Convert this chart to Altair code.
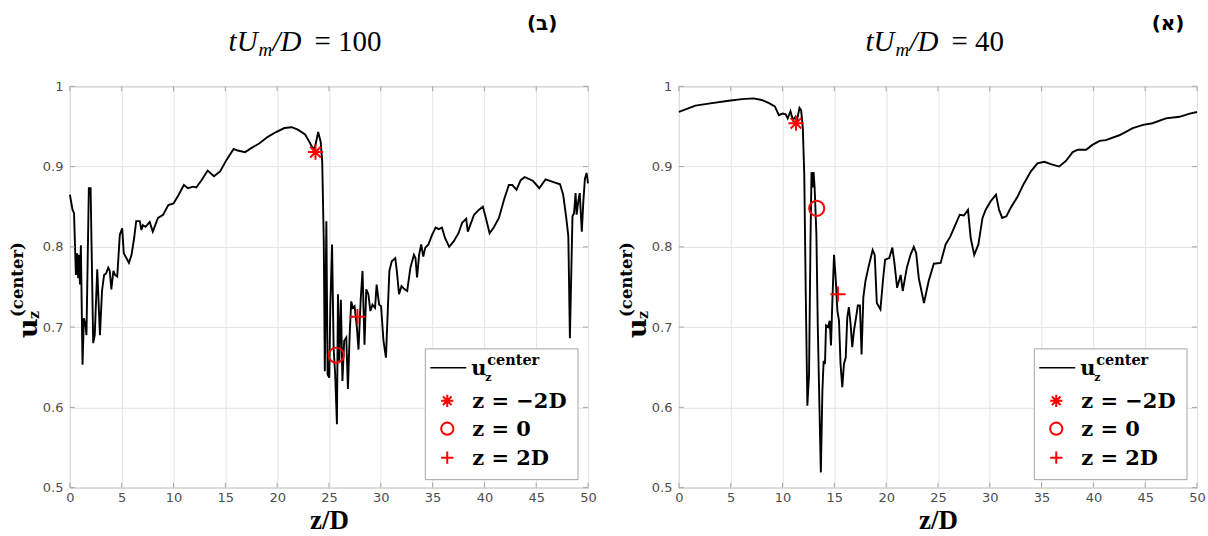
import altair as alt
import pandas as pd

# Centre-line axial velocity at tU_m/D = 100 (left panel)
left_z = [0, 0.26, 0.4, 0.58, 0.7, 0.8, 0.9, 0.97, 1.06, 1.22,
          1.35, 1.5, 1.6, 1.83, 2.0, 2.25, 2.4, 2.64, 2.9, 3.1,
          3.3, 3.5, 3.7, 3.85, 4.0, 4.2, 4.35, 4.57, 4.82, 5.05,
          5.2, 5.45, 5.7, 5.95, 6.2, 6.4, 6.75, 6.9, 7.05, 7.3,
          7.45, 7.7, 8.0, 8.5, 9.0, 9.5, 10.0, 10.5, 11.0, 11.4,
          11.9, 12.2, 12.7, 13.3, 13.9, 14.5, 15.1, 15.8, 16.2, 16.9,
          17.5, 18.3, 19.1, 19.9, 20.7, 21.4, 22.0, 22.7, 23.1, 23.5,
          23.7, 23.96, 24.2, 24.35, 24.5, 24.6, 24.75, 24.87, 25.03, 25.13,
          25.3, 25.45, 25.6, 25.77, 25.87, 26.0, 26.15, 26.3, 26.47, 26.67,
          26.83, 27.0, 27.15, 27.3, 27.47, 27.7, 27.85, 28.07, 28.24, 28.43,
          28.6, 28.8, 29.0, 29.2, 29.45, 29.6, 29.84, 30.03, 30.26, 30.5,
          30.7, 30.83, 31.06, 31.4, 31.55, 31.76, 32.0, 32.3, 32.55, 32.86,
          33.2, 33.35, 33.5, 33.7, 33.9, 34.1, 34.3, 34.6, 34.95, 35.3,
          35.6, 35.9, 36.2, 36.6, 37.05, 37.5, 37.85, 38.24, 38.4, 38.66,
          39.0, 39.46, 39.85, 40.1, 40.5, 40.9, 41.4, 41.9, 42.36, 42.7,
          43.1, 43.5, 43.9, 44.7, 45.3, 45.9, 46.6, 47.3, 47.6, 47.9,
          48.1, 48.25, 48.5, 48.65, 48.8, 48.9, 49.06, 49.2, 49.4, 49.55,
          49.7, 49.86, 50.0]
left_u = [0.865, 0.846, 0.842, 0.765, 0.792, 0.761, 0.79, 0.753, 0.802, 0.653,
          0.711, 0.703, 0.69, 0.873, 0.873, 0.68, 0.69, 0.772, 0.69, 0.745,
          0.765, 0.767, 0.774, 0.77, 0.747, 0.77, 0.765, 0.763, 0.815, 0.823,
          0.792, 0.786, 0.78, 0.79, 0.811, 0.832, 0.832, 0.821, 0.827, 0.825,
          0.827, 0.831, 0.819, 0.836, 0.84, 0.852, 0.854, 0.865, 0.877, 0.873,
          0.875, 0.874, 0.883, 0.895, 0.888, 0.894, 0.908, 0.922, 0.92, 0.918,
          0.923, 0.929, 0.937, 0.943, 0.948, 0.949, 0.946, 0.94, 0.931, 0.921,
          0.927, 0.943, 0.931, 0.906, 0.807, 0.645, 0.832, 0.641, 0.637, 0.724,
          0.803, 0.674, 0.641, 0.579, 0.741, 0.658, 0.734, 0.633, 0.683, 0.687,
          0.623, 0.691, 0.732, 0.724, 0.726, 0.699, 0.672, 0.736, 0.77, 0.678,
          0.747, 0.741, 0.72, 0.728, 0.724, 0.753, 0.728, 0.726, 0.683, 0.662,
          0.728, 0.77, 0.782, 0.786, 0.77, 0.741, 0.751, 0.747, 0.745, 0.774,
          0.79, 0.786, 0.762, 0.79, 0.803, 0.788, 0.799, 0.803, 0.815, 0.824,
          0.822, 0.824, 0.811, 0.8, 0.807, 0.817, 0.83, 0.835, 0.819, 0.828,
          0.84, 0.846, 0.85, 0.838, 0.817, 0.824, 0.836, 0.859, 0.877, 0.877,
          0.871, 0.883, 0.887, 0.882, 0.873, 0.884, 0.881, 0.878, 0.865, 0.836,
          0.813, 0.686, 0.838, 0.842, 0.867, 0.84, 0.857, 0.867, 0.819, 0.857,
          0.885, 0.892, 0.879]

# Centre-line axial velocity at tU_m/D = 40 (right panel)
right_z = [0, 1.6, 3.2, 4.8, 6.1, 7.2, 8.0, 8.7, 9.26, 9.65,
           10.0, 10.3, 10.5, 10.77, 11.0, 11.25, 11.4, 11.64, 11.8, 11.96,
           12.1, 12.24, 12.4, 12.56, 12.7, 12.8, 12.9, 13.0, 13.1, 13.27,
           13.4, 13.6, 13.7, 13.85, 13.97, 14.1, 14.2, 14.4, 14.55, 14.68,
           14.8, 14.97, 15.13, 15.3, 15.45, 15.6, 15.77, 15.93, 16.1, 16.25,
           16.4, 16.57, 16.73, 16.9, 17.1, 17.27, 17.47, 17.63, 17.8, 18.0,
           18.3, 18.7, 18.9, 19.1, 19.45, 19.7, 19.9, 20.3, 20.6, 20.8,
           21.06, 21.4, 21.6, 22.0, 22.35, 22.67, 22.9, 23.15, 23.65, 24.1,
           24.6, 25.26, 25.74, 26.2, 26.7, 27.1, 27.5, 27.9, 28.16, 28.5,
           28.9, 29.3, 29.6, 30.1, 30.6, 30.9, 31.2, 31.6, 32.0, 32.7,
           33.3, 33.97, 34.6, 35.26, 35.9, 36.7, 37.35, 38.0, 38.5, 39.3,
           39.9, 40.6, 41.2, 42.5, 43.8, 44.8, 45.7, 47.0, 48.3, 49.3,
           50.0]
right_u = [0.968, 0.976, 0.979, 0.982, 0.984, 0.985, 0.983, 0.979, 0.975, 0.964,
           0.966, 0.965, 0.96, 0.969, 0.958, 0.962, 0.958, 0.973, 0.97, 0.948,
           0.89, 0.745, 0.602, 0.641, 0.807, 0.893, 0.874, 0.893, 0.874, 0.816,
           0.704, 0.579, 0.519, 0.621, 0.658, 0.654, 0.702, 0.7, 0.708, 0.677,
           0.728, 0.79, 0.761, 0.72, 0.708, 0.654, 0.625, 0.654, 0.662, 0.712,
           0.725, 0.704, 0.675, 0.696, 0.712, 0.727, 0.727, 0.666, 0.737, 0.757,
           0.775, 0.796, 0.79, 0.73, 0.722, 0.759, 0.784, 0.786, 0.799, 0.78,
           0.749, 0.765, 0.745, 0.774, 0.79, 0.8, 0.792, 0.761, 0.73, 0.757,
           0.779, 0.78, 0.803, 0.813, 0.828, 0.84, 0.839, 0.846, 0.811, 0.79,
           0.803, 0.836, 0.846, 0.857, 0.865, 0.846, 0.836, 0.838, 0.848, 0.863,
           0.879, 0.894, 0.904, 0.906, 0.903, 0.9, 0.907, 0.918, 0.921, 0.921,
           0.927, 0.932, 0.933, 0.939, 0.948, 0.952, 0.954, 0.96, 0.962, 0.966,
           0.968]

# Values at the three stations z = -2D, 0, 2D
marker_kinds = ["z = \u22122D", "z = 0", "z = 2D"]
left_marks_z = [23.7, 25.7, 27.75]
left_marks_u = [0.918, 0.665, 0.713]
right_marks_z = [11.3, 13.3, 15.35]
right_marks_u = [0.954, 0.848, 0.741]

x_ticks = list(range(0, 51, 5))
y_ticks = [0.5, 0.6, 0.7, 0.8, 0.9, 1.0]

W, H = 519, 402
GAP = 91
FRAME = "#a6a6a6"
GRID = "#e4e4e4"
LABEL = "#4d4d4d"
RED = "#ff0000"
ASTERISK = "M-1,0L1,0M0,-1L0,1M-0.7,-0.7L0.7,0.7M-0.7,0.7L0.7,-0.7"
PLUS = "M-1,0L1,0M0,-1L0,1"
SHAPES = [ASTERISK, "circle", PLUS]

one = pd.DataFrame({"k": [0]})
x_scale = alt.Scale(domain=[0, 50], nice=False, zero=False)
y_scale = alt.Scale(domain=[0.5, 1.0], nice=False, zero=False)


def txt(text, x, y, size, font="DejaVu Serif", weight="bold", style="normal",
        angle=0, align="left", baseline="alphabetic", color="black"):
    return alt.Chart(one).mark_text(
        text=text, font=font, fontSize=size, fontWeight=weight, fontStyle=style,
        angle=angle, align=align, baseline=baseline, color=color
    ).encode(x=alt.value(x), y=alt.value(y))


def anchor(x, y):
    # invisible point that pins the outer bounds of the page
    return alt.Chart(one).mark_point(size=0, opacity=0, strokeWidth=0).encode(
        x=alt.value(x), y=alt.value(y))


def panel(z, u, mz, mu, value_text, heb, title_x, heb_x, corners):
    df = pd.DataFrame({"z": z, "u": u})
    line = alt.Chart(df).mark_line(color="black", strokeWidth=1.9).encode(
        x=alt.X("z:Q", scale=x_scale, axis=alt.Axis(
            values=x_ticks, title="z/D", titleFont="Liberation Serif",
            titleFontSize=27, titleFontWeight="bold", titleColor="black",
            titlePadding=3, labelFont="DejaVu Sans", labelFontSize=13,
            labelColor=LABEL, labelPadding=4, labelFlush=False, grid=True,
            gridColor=GRID, domain=False, ticks=False)),
        y=alt.Y("u:Q", scale=y_scale, axis=alt.Axis(
            values=y_ticks, format="~g", title=None, labelFont="DejaVu Sans",
            labelFontSize=13, labelColor=LABEL, labelPadding=7, labelFlush=False,
            grid=True, gridColor=GRID, domain=False, ticks=False)),
    )

    mk = pd.DataFrame({"z": mz, "u": mu, "kind": marker_kinds})
    points = alt.Chart(mk).mark_point(
        filled=False, strokeWidth=2, size=230, color=RED, opacity=1
    ).encode(
        x="z:Q", y="u:Q",
        shape=alt.Shape("kind:N", scale=alt.Scale(domain=marker_kinds, range=SHAPES), legend=None),
    )

    # inward tick marks on all four sides of the box
    xt = pd.DataFrame({"z": x_ticks})
    yt = pd.DataFrame({"u": y_ticks})
    ticks = [
        alt.Chart(xt).mark_rule(color=FRAME).encode(x="z:Q", y=alt.value(H), y2=alt.value(H - 5)),
        alt.Chart(xt).mark_rule(color=FRAME).encode(x="z:Q", y=alt.value(0), y2=alt.value(5)),
        alt.Chart(yt).mark_rule(color=FRAME).encode(y="u:Q", x=alt.value(0), x2=alt.value(5)),
        alt.Chart(yt).mark_rule(color=FRAME).encode(y="u:Q", x=alt.value(W), x2=alt.value(W - 5)),
    ]

    # legend box
    lx0, lx1, ly0, ly1 = 356, 509, 263, 394
    legend = [
        alt.Chart(one).mark_rect(fill="white", stroke=FRAME, strokeWidth=1).encode(
            x=alt.value(lx0), x2=alt.value(lx1), y=alt.value(ly0), y2=alt.value(ly1)),
        alt.Chart(one).mark_rule(color="black", strokeWidth=1.5).encode(
            x=alt.value(361), x2=alt.value(397), y=alt.value(282)),
        txt("u", 402, 289, 21),
        txt("z", 416, 295, 11),
        txt("center", 418, 279, 14.5),
    ]
    for i, (shape, yy) in enumerate(zip(SHAPES, [315, 343, 372])):
        legend.append(alt.Chart(one).mark_point(
            filled=False, strokeWidth=2, size=150, color=RED, shape=shape, opacity=1
        ).encode(x=alt.value(378), y=alt.value(yy)))
        legend.append(txt(marker_kinds[i], 403, yy + 7, 21))

    # rotated y-axis title
    ytitle = [
        txt("u", -33, 252, 27, angle=270),
        txt("z", -31, 233, 14, angle=270),
        txt("(center)", -47, 231, 16.5, angle=270),
    ]

    # panel heading
    heading = [
        txt("tU", title_x, -35, 29, font="Liberation Serif", weight="normal", style="italic"),
        txt("m", title_x + 30, -30, 19, font="Liberation Serif", weight="normal", style="italic"),
        txt("/D", title_x + 44, -35, 29, font="Liberation Serif", weight="normal", style="italic"),
        txt(value_text, title_x + 86, -35, 29, font="Liberation Serif", weight="normal"),
        txt(heb, heb_x, -56, 20, font="DejaVu Sans", weight="bold", align="center"),
    ]

    pins = [anchor(cx, cy) for cx, cy in corners]
    return alt.layer(line, *ticks, points, *legend, *ytitle, *heading, *pins).properties(width=W, height=H)


left = panel(left_z, left_u, left_marks_z, left_marks_u, "= 100", "(\u05d1)", 159, 473,
             [(-69, -85), (-69, H + 49)])
right = panel(right_z, right_u, right_marks_z, right_marks_u, "= 40", "(\u05d0)", 187, 490,
              [(W + 10, -85), (W + 10, H + 49)])

chart = alt.hconcat(left, right, spacing=GAP, bounds="flush").properties(
    padding=0,
).configure_view(stroke=FRAME, strokeWidth=1)

chart.save("out.html", embed_options={"renderer": "svg", "actions": False})
